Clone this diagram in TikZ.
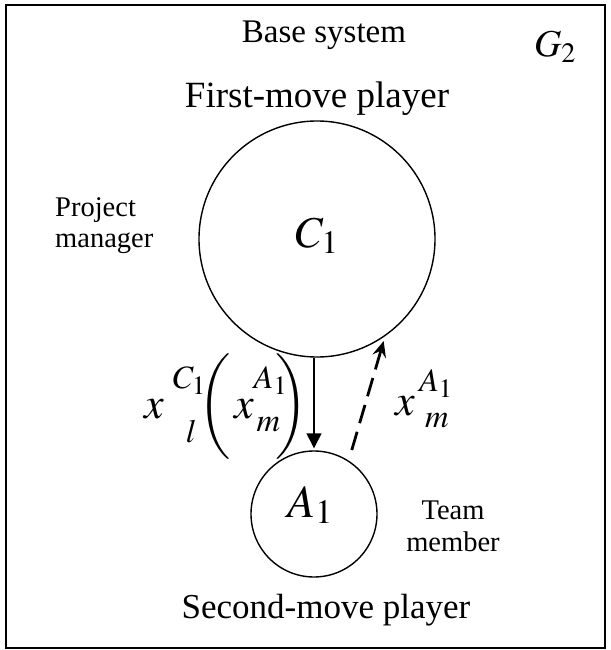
\documentclass[tikz,border=0pt]{standalone}
\usepackage{mathptmx}
\usepackage{fontspec}
\setmainfont{Liberation Serif}
\usetikzlibrary{arrows.meta}
\tikzstyle{frame}=[line width=1.8pt]
\tikzstyle{player}=[draw, circle, inner sep=0, line width=1.4pt]
\tikzstyle{caption}=[inner sep=0, font=\fontsize{37}{44}\selectfont]
\tikzstyle{role}=[inner sep=0, font=\fontsize{28.5}{31.5}\selectfont]
\tikzstyle{symbol}=[inner sep=0, font=\fontsize{44}{52}\selectfont]
\tikzstyle{move}=[line width=1.4pt, -{Triangle[length=15pt, width=15pt]}, shorten >=2pt]
\tikzstyle{reply}=[line width=2.8pt, dash pattern=on 19pt off 9pt, -{Stealth[length=16pt, width=14pt, inset=6pt]}, shorten <=11pt, shorten >=5pt]
\newcommand{\stackscripts}[5]{\mbox{\rlap{\raisebox{#3}{$\scriptstyle #1$}}\hspace{#5}\raisebox{-#4}{$\scriptstyle #2$}}}

\begin{document}
\begin{tikzpicture}[x=1pt, y=-1pt]
  \useasboundingbox (0,0) rectangle (610,650);
  \draw[frame] (6,5) rectangle (605,648);

  \node[player, minimum size=236pt] (C1) at (317,239) {};
  \node[player, minimum size=126pt] (A1) at (314,514) {};
  \node[symbol, anchor=base] (C1_name) at (317,247) {$C_1$};
  \node[symbol, anchor=base, font=\fontsize{46}{54}\selectfont] (A1_name) at (310,517) {$A_1$};
  \node[symbol, anchor=base, font=\fontsize{38}{46}\selectfont] (G2_name) at (555,57) {$G_2$};

  \node[caption, anchor=base, font=\fontsize{33}{40}\selectfont] (base_system) at (324,43) {Base system};
  \node[caption, anchor=base] (first_move) at (317,108) {First-move player};
  \node[caption, anchor=base, font=\fontsize{35}{42}\selectfont] (second_move) at (326,618) {Second-move player};
  \node[role, align=left, anchor=north west] (manager) at (55,197) {Project\\manager};
  \node[role, align=center, anchor=north] (member) at (453,501) {Team\\member};

  \draw[move] (A1.north |- C1.south) -- (A1.north);
  \draw[reply] (A1.57) -- (C1.-55);

  \node[symbol, anchor=base] (offer) at (226,418) {$x\hspace{9pt}\stackscripts{C_1}{l}{30pt}{24pt}{13pt}\hspace{2pt}\bigg(\hspace{3pt}x\stackscripts{A_1}{m}{30pt}{13pt}{3pt}\!\bigg)$};
  \node[symbol, anchor=base] (response) at (422,415) {$x\hspace{4pt}\stackscripts{A_1}{m}{24pt}{12pt}{6pt}$};
\end{tikzpicture}
\end{document}
